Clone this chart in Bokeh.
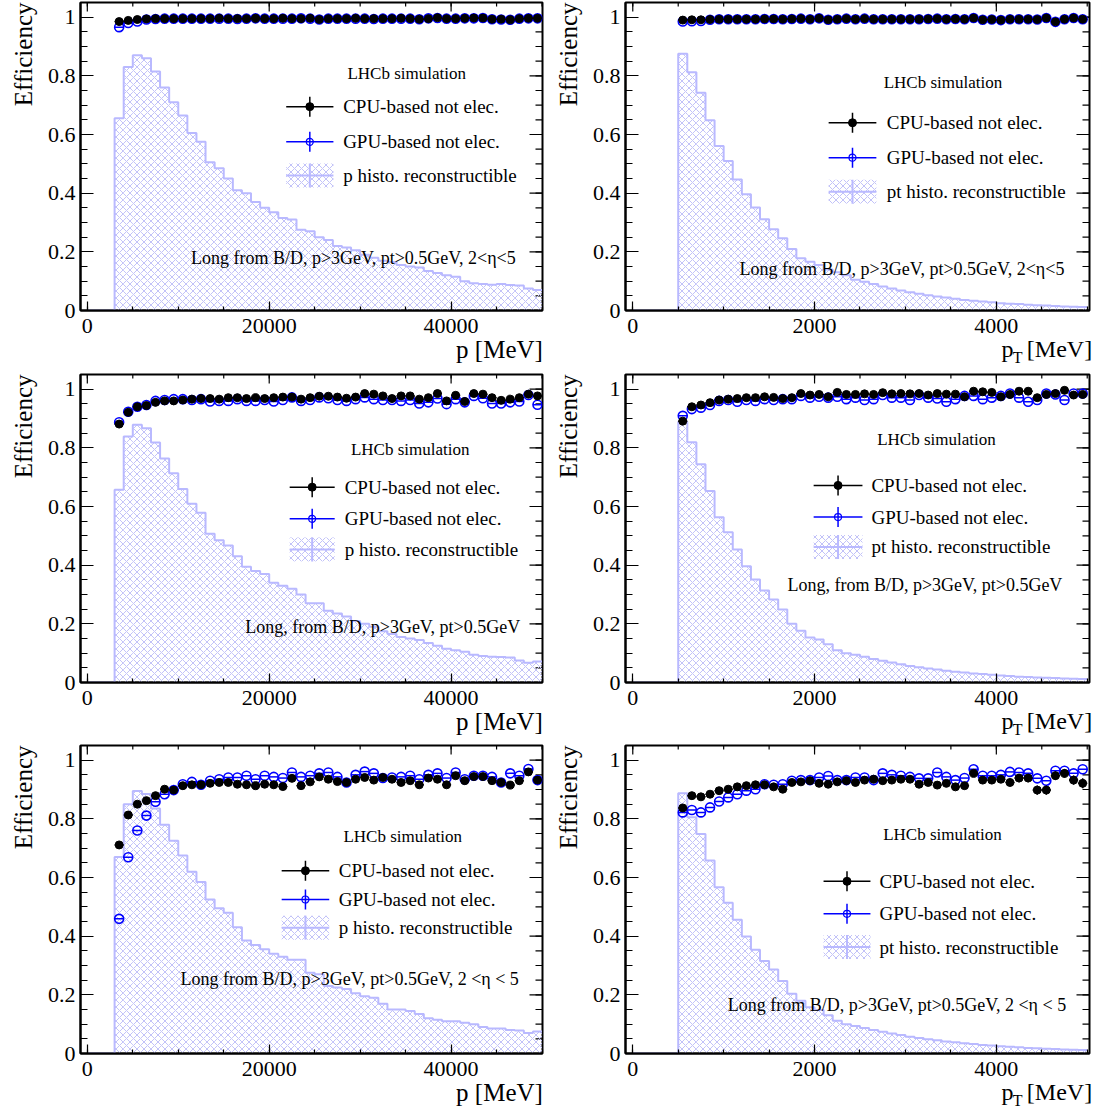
import numpy as np
from bokeh.plotting import figure
from bokeh.models import Range1d, LinearAxis, FixedTicker, CustomJSTickFormatter, Label, Title
from bokeh.layouts import column, row
from bokeh.embed import file_html
from bokeh.resources import INLINE

FONT = "Liberation Serif"
HATCH = "#c2c2f8"
HLINE = "#b9b9ff"
BLUE = "#0000ff"

# ---------------- data ----------------
p_bin_width = 1000      # MeV, p histogram / efficiency bins (0 .. 50000)
pt_bin_width = 100      # MeV, pt histogram / efficiency bins (0 .. 5000)
p_first_center = 3500
pt_first_center = 550

# reconstructible p histograms (normalised), 50 bins of 1000 MeV
p_hist_row1 = [0, 0, 0,
               0.655, 0.83, 0.87, 0.86, 0.815, 0.76, 0.71, 0.665, 0.605, 0.575,
               0.505, 0.485, 0.45, 0.41, 0.40, 0.37, 0.35, 0.335, 0.315, 0.31,
               0.275, 0.27, 0.25, 0.24, 0.22, 0.215, 0.205, 0.19, 0.18, 0.17,
               0.165, 0.155, 0.15, 0.147, 0.135, 0.128, 0.12, 0.115, 0.10, 0.093,
               0.09, 0.088, 0.09, 0.087, 0.085, 0.075, 0.07]
p_hist_row2 = [0, 0, 0,
               0.657, 0.839, 0.879, 0.867, 0.818, 0.764, 0.713, 0.66, 0.609, 0.579,
               0.507, 0.485, 0.467, 0.43, 0.395, 0.38, 0.37, 0.34, 0.33, 0.32,
               0.30, 0.27, 0.27, 0.245, 0.235, 0.225, 0.21, 0.20, 0.19, 0.175,
               0.165, 0.155, 0.15, 0.145, 0.135, 0.125, 0.115, 0.11, 0.105, 0.095,
               0.09, 0.088, 0.087, 0.085, 0.075, 0.067, 0.072]
p_hist_row3 = [0, 0, 0,
               0.67, 0.85, 0.895, 0.885, 0.835, 0.78, 0.725, 0.675, 0.62, 0.585,
               0.525, 0.495, 0.48, 0.43, 0.385, 0.37, 0.355, 0.34, 0.33, 0.32,
               0.32, 0.275, 0.27, 0.23, 0.225, 0.22, 0.205, 0.195, 0.19, 0.17,
               0.15, 0.15, 0.145, 0.135, 0.12, 0.115, 0.11, 0.11, 0.105, 0.1,
               0.09, 0.085, 0.085, 0.08, 0.078, 0.07, 0.075]

# reconstructible pt histograms (normalised), 50 bins of 100 MeV
pt_hist_row1 = [0, 0, 0, 0, 0,
                0.875, 0.812, 0.742, 0.649, 0.561, 0.51, 0.447, 0.396, 0.351, 0.311,
                0.277, 0.246, 0.21, 0.178, 0.166, 0.155, 0.14, 0.13, 0.12, 0.105,
                0.098, 0.09, 0.082, 0.075, 0.068, 0.062, 0.057, 0.052, 0.048, 0.044,
                0.04, 0.036, 0.033, 0.031, 0.028, 0.025, 0.023, 0.022, 0.02, 0.018,
                0.017, 0.015, 0.014, 0.013, 0.012]
pt_hist_row2 = [0, 0, 0, 0, 0,
                0.889, 0.819, 0.744, 0.653, 0.563, 0.512, 0.453, 0.396, 0.351, 0.314,
                0.283, 0.249, 0.2, 0.176, 0.153, 0.147, 0.13, 0.11, 0.1, 0.095,
                0.088, 0.08, 0.074, 0.068, 0.062, 0.056, 0.052, 0.048, 0.044, 0.04,
                0.037, 0.034, 0.031, 0.029, 0.026, 0.024, 0.022, 0.02, 0.019, 0.017,
                0.016, 0.015, 0.014, 0.013, 0.012]
pt_hist_row3 = [0, 0, 0, 0, 0,
                0.887, 0.805, 0.748, 0.658, 0.567, 0.514, 0.456, 0.399, 0.354, 0.315,
                0.286, 0.247, 0.204, 0.18, 0.158, 0.148, 0.13, 0.112, 0.1, 0.094,
                0.087, 0.08, 0.074, 0.068, 0.063, 0.057, 0.053, 0.049, 0.045, 0.041,
                0.038, 0.035, 0.032, 0.029, 0.027, 0.025, 0.023, 0.021, 0.019, 0.018,
                0.016, 0.015, 0.014, 0.013, 0.012]

# efficiencies vs p (bin centres 3500 .. 49500)
cpu_p_row1 = [0.985, 0.989, 0.992, 0.994, 0.995, 0.995, 0.995, 0.995, 0.995, 0.995,
              0.995, 0.996, 0.995, 0.995, 0.995, 0.996, 0.995, 0.995, 0.996, 0.995,
              0.995, 0.996, 0.992, 0.995, 0.995, 0.995, 0.996, 0.995, 0.995, 0.995,
              0.995, 0.996, 0.995, 0.993, 0.995, 0.998, 0.995, 0.995, 0.996, 0.997,
              0.997, 0.993, 0.993, 0.991, 0.995, 0.996, 0.996]
gpu_p_row1 = [0.966, 0.98, 0.985, 0.992, 0.994, 0.995, 0.995, 0.995, 0.995, 0.995,
              0.995, 0.995, 0.995, 0.994, 0.995, 0.996, 0.995, 0.995, 0.995, 0.995,
              0.996, 0.995, 0.992, 0.995, 0.995, 0.995, 0.995, 0.995, 0.994, 0.995,
              0.995, 0.995, 0.995, 0.993, 0.996, 0.997, 0.995, 0.995, 0.996, 0.996,
              0.997, 0.993, 0.992, 0.991, 0.995, 0.996, 0.996]
cpu_p_row2 = [0.881, 0.921, 0.94, 0.944, 0.955, 0.96, 0.96, 0.963, 0.966, 0.968,
              0.968, 0.966, 0.971, 0.971, 0.968, 0.971, 0.968, 0.971, 0.973, 0.973,
              0.966, 0.971, 0.976, 0.976, 0.973, 0.969, 0.973, 0.985, 0.983, 0.977,
              0.968, 0.977, 0.977, 0.966, 0.971, 0.985, 0.96, 0.979, 0.958, 0.985,
              0.983, 0.971, 0.962, 0.966, 0.971, 0.983, 0.977]
gpu_p_row2 = [0.887, 0.923, 0.94, 0.946, 0.96, 0.963, 0.966, 0.966, 0.963, 0.966,
              0.958, 0.96, 0.96, 0.966, 0.96, 0.96, 0.963, 0.958, 0.963, 0.972,
              0.96, 0.963, 0.972, 0.969, 0.963, 0.96, 0.966, 0.972, 0.966, 0.963,
              0.963, 0.96, 0.963, 0.951, 0.955, 0.968, 0.949, 0.966, 0.955, 0.977,
              0.969, 0.951, 0.951, 0.955, 0.958, 0.98, 0.947]
cpu_p_row3 = [0.711, 0.813, 0.85, 0.862, 0.879, 0.901, 0.898, 0.913, 0.916, 0.916,
              0.921, 0.924, 0.924, 0.918, 0.916, 0.913, 0.918, 0.916, 0.91, 0.938,
              0.913, 0.926, 0.943, 0.935, 0.927, 0.924, 0.935, 0.941, 0.932, 0.941,
              0.935, 0.924, 0.93, 0.916, 0.939, 0.935, 0.916, 0.947, 0.93, 0.944,
              0.944, 0.93, 0.924, 0.915, 0.93, 0.96, 0.932]
gpu_p_row3 = [0.459, 0.669, 0.76, 0.811, 0.858, 0.884, 0.898, 0.918, 0.926, 0.916,
              0.93, 0.935, 0.941, 0.941, 0.947, 0.935, 0.947, 0.943, 0.939, 0.958,
              0.943, 0.947, 0.955, 0.958, 0.943, 0.924, 0.95, 0.961, 0.955, 0.939,
              0.941, 0.943, 0.947, 0.935, 0.95, 0.955, 0.939, 0.958, 0.935, 0.947,
              0.947, 0.943, 0.924, 0.955, 0.947, 0.97, 0.932]

# efficiencies vs pt (bin centres 550 .. 4950)
cpu_pt_row1 = [0.990, 0.991, 0.991, 0.992, 0.993, 0.993, 0.993, 0.993, 0.993, 0.994,
               0.994, 0.993, 0.994, 0.995, 0.993, 0.996, 0.991, 0.993, 0.995, 0.993,
               0.995, 0.993, 0.993, 0.993, 0.993, 0.993, 0.993, 0.994, 0.995, 0.993,
               0.994, 0.993, 0.997, 0.991, 0.992, 0.990, 0.993, 0.993, 0.993, 0.992,
               0.997, 0.984, 0.993, 0.997, 0.993]
gpu_pt_row1 = [0.985, 0.986, 0.987, 0.991, 0.993, 0.993, 0.993, 0.993, 0.993, 0.994,
               0.994, 0.993, 0.994, 0.995, 0.993, 0.996, 0.991, 0.993, 0.995, 0.993,
               0.995, 0.993, 0.993, 0.993, 0.993, 0.993, 0.993, 0.994, 0.995, 0.993,
               0.994, 0.993, 0.997, 0.991, 0.992, 0.990, 0.993, 0.993, 0.993, 0.992,
               0.997, 0.984, 0.993, 0.997, 0.993]
cpu_pt_row2 = [0.891, 0.94, 0.946, 0.954, 0.963, 0.966, 0.968, 0.971, 0.971, 0.974,
               0.972, 0.968, 0.971, 0.985, 0.98, 0.982, 0.974, 0.989, 0.982, 0.982,
               0.984, 0.982, 0.988, 0.984, 0.985, 0.984, 0.985, 0.98, 0.985, 0.983,
               0.983, 0.974, 0.993, 0.991, 0.989, 0.974, 0.982, 0.993, 0.993, 0.971,
               0.982, 0.985, 0.996, 0.98, 0.982]
gpu_pt_row2 = [0.909, 0.932, 0.937, 0.946, 0.96, 0.963, 0.957, 0.963, 0.96, 0.966,
               0.963, 0.966, 0.966, 0.977, 0.971, 0.974, 0.971, 0.974, 0.966, 0.971,
               0.963, 0.966, 0.98, 0.971, 0.971, 0.963, 0.98, 0.971, 0.968, 0.957,
               0.966, 0.977, 0.977, 0.966, 0.971, 0.977, 0.985, 0.971, 0.957, 0.963,
               0.985, 0.982, 0.963, 0.985, 0.985]
cpu_pt_row3 = [0.837, 0.879, 0.875, 0.884, 0.896, 0.901, 0.909, 0.913, 0.916, 0.916,
               0.909, 0.901, 0.924, 0.926, 0.93, 0.921, 0.918, 0.926, 0.93, 0.924,
               0.932, 0.935, 0.93, 0.932, 0.935, 0.935, 0.918, 0.924, 0.915, 0.921,
               0.909, 0.913, 0.955, 0.932, 0.932, 0.935, 0.924, 0.939, 0.939, 0.898,
               0.898, 0.947, 0.955, 0.932, 0.921]
gpu_pt_row3 = [0.822, 0.83, 0.822, 0.839, 0.859, 0.873, 0.884, 0.896, 0.901, 0.918,
               0.916, 0.918, 0.93, 0.932, 0.932, 0.941, 0.946, 0.932, 0.932, 0.941,
               0.941, 0.932, 0.955, 0.95, 0.947, 0.943, 0.938, 0.938, 0.958, 0.943,
               0.932, 0.939, 0.969, 0.947, 0.947, 0.95, 0.96, 0.958, 0.955, 0.938,
               0.93, 0.964, 0.964, 0.955, 0.969]
# statistical uncertainties visible in the bottom-right panel (CPU points)
cpu_pt_row3_err = [0.004, 0.004, 0.004, 0.004, 0.004, 0.004, 0.004, 0.004, 0.004, 0.005,
                   0.005, 0.005, 0.005, 0.005, 0.006, 0.006, 0.006, 0.006, 0.007, 0.007,
                   0.007, 0.008, 0.008, 0.008, 0.009, 0.009, 0.009, 0.010, 0.010, 0.011,
                   0.011, 0.012, 0.011, 0.012, 0.012, 0.013, 0.013, 0.014, 0.014, 0.016,
                   0.016, 0.015, 0.015, 0.016, 0.017]

legend_labels = ["CPU-based not elec.", "GPU-based not elec."]
hist_label = {"p": "p histo. reconstructible", "pt": "pt histo. reconstructible"}
info_texts = ["Long from B/D, p>3GeV, pt>0.5GeV, 2<\u03b7<5",
              "Long from B/D, p>3GeV, pt>0.5GeV, 2<\u03b7<5",
              "Long, from B/D, p>3GeV, pt>0.5GeV",
              "Long, from B/D, p>3GeV, pt>0.5GeV",
              "Long from B/D, p>3GeV, pt>0.5GeV, 2 <\u03b7 < 5",
              "Long from B/D, p>3GeV, pt>0.5GeV, 2 <\u03b7 < 5"]

# ---------------- placement of in-frame annotations (data coordinates) ----------------
layouts = [
    dict(lhcb=(35120, 0.807), rows=(0.695, 0.575, 0.46), gx=(21870, 27060), tx=28130, info=(29250, 0.18)),
    dict(lhcb=(3412, 0.776), rows=(0.64, 0.521, 0.405), gx=(2155, 2680), tx=2795, info=(2962, 0.14)),
    dict(lhcb=(35500, 0.793), rows=(0.666, 0.558, 0.453), gx=(22250, 27200), tx=28300, info=(32480, 0.19)),
    dict(lhcb=(3341, 0.83), rows=(0.672, 0.564, 0.462), gx=(1990, 2527), tx=2626, info=(3214, 0.334)),
    dict(lhcb=(34680, 0.74), rows=(0.623, 0.525, 0.429), gx=(21370, 26600), tx=27650, info=(28850, 0.255)),
    dict(lhcb=(3407, 0.746), rows=(0.587, 0.476, 0.363), gx=(2099, 2615), tx=2714, info=(2907, 0.165)),
]

FRAME_H = 308
Y_END = 1.05
FMT = CustomJSTickFormatter(code="return tick.toString();")


def style_axis(ax, major_in, minor_in, standoff):
    ax.major_tick_in = major_in
    ax.major_tick_out = 0
    ax.minor_tick_in = minor_in
    ax.minor_tick_out = 0
    ax.axis_line_color = "black"
    ax.axis_line_width = 2
    ax.major_tick_line_color = "black"
    ax.minor_tick_line_color = "black"
    ax.major_tick_line_width = 1.2
    ax.minor_tick_line_width = 1.2
    ax.formatter = FMT
    ax.major_label_text_font = FONT
    ax.major_label_text_font_size = "22px"
    ax.major_label_text_color = "black"
    ax.major_label_standoff = standoff


def title_axis(fig, positions, labels, size, standoff):
    code = "var l = %s; return l[index];" % repr(labels)
    ax = LinearAxis(ticker=FixedTicker(ticks=positions, minor_ticks=[]),
                    formatter=CustomJSTickFormatter(code=code))
    ax.axis_line_color = None
    ax.major_tick_line_color = None
    ax.minor_tick_line_color = None
    ax.major_tick_out = 0
    ax.major_tick_in = 0
    ax.major_label_text_font = FONT
    ax.major_label_text_font_size = size
    ax.major_label_text_color = "black"
    ax.major_label_standoff = standoff
    fig.add_layout(ax, "below")


def lab(fig, x, y, text, size, align="left"):
    fig.add_layout(Label(x=x, y=y, text=text, text_font=FONT, text_font_size=size,
                         text_color="black", text_align=align, text_baseline="middle"))


def panel(kind, hist, cpu, gpu, lay, info, left_col, top, bottom, cpu_err=None):
    if kind == "p":
        xr = Range1d(-750, 50050)
        bw, c0 = p_bin_width, p_first_center
        x_major = [0, 20000, 40000]
        x_minor = list(range(0, 50001, 5000))
    else:
        xr = Range1d(-80, 5025)
        bw, c0 = pt_bin_width, pt_first_center
        x_major = [0, 2000, 4000]
        x_minor = list(range(0, 5001, 500))
    y_major = [0, 0.2, 0.4, 0.6, 0.8, 1.0]
    y_minor = [round(0.05 * k, 2) for k in range(22)]
    fw = 462 if left_col else 464
    fig = figure(x_range=xr, y_range=Range1d(0, Y_END), frame_width=fw, frame_height=FRAME_H,
                 min_border_left=80, min_border_right=3 if left_col else 6,
                 min_border_top=top, min_border_bottom=bottom,
                 output_backend="svg", toolbar_location=None,
                 background_fill_color="white", border_fill_color="white")
    fig.xgrid.visible = False
    fig.ygrid.visible = False
    fig.outline_line_color = "black"
    fig.outline_line_width = 2

    fig.xaxis.ticker = FixedTicker(ticks=x_major, minor_ticks=x_minor)
    fig.yaxis.ticker = FixedTicker(ticks=y_major, minor_ticks=y_minor)
    style_axis(fig.xaxis[0], 9, 4, 8)
    style_axis(fig.yaxis[0], 13, 7, 5)

    # mirrored ticks on the top and right frame edges
    xpp = (xr.end - xr.start) / fw        # data units per pixel (x)
    ypp = Y_END / FRAME_H                 # data units per pixel (y)
    xm = np.array(x_major, dtype=float)
    xn = np.array(x_minor, dtype=float)
    fig.segment(xm, Y_END, xm, Y_END - 9 * ypp, line_color="black", line_width=1.2)
    fig.segment(xn, Y_END, xn, Y_END - 4 * ypp, line_color="black", line_width=1.2)
    ym = np.array(y_major)
    yn = np.array(y_minor)
    fig.segment(xr.end, ym, xr.end - 13 * xpp, ym, line_color="black", line_width=1.2)
    fig.segment(xr.end, yn, xr.end - 7 * xpp, yn, line_color="black", line_width=1.2)

    # histogram
    n = len(hist)
    lo = np.arange(n) * bw
    fig.quad(left=lo, right=lo + bw, bottom=np.zeros(n), top=hist,
             fill_color=None, line_color=None, hatch_pattern="x",
             hatch_color=HATCH, hatch_scale=7, hatch_weight=1)
    edges = np.arange(n + 1) * bw
    fig.line(np.repeat(edges, 2)[1:-1], np.repeat(hist, 2), line_color=HLINE, line_width=2)

    # efficiencies
    cx = c0 + np.arange(len(cpu)) * bw
    g = np.array(gpu)
    c = np.array(cpu)
    fig.segment(cx - bw / 2, g, cx + bw / 2, g, line_color=BLUE, line_width=1.5)
    fig.scatter(cx, g, marker="circle", size=9, fill_color=None, line_color=BLUE, line_width=1.6)
    fig.segment(cx - bw / 2, c, cx + bw / 2, c, line_color="black", line_width=1.5)
    if cpu_err is not None:
        e = np.array(cpu_err)
        fig.segment(cx, c - e, cx, c + e, line_color="black", line_width=1.5)
    fig.scatter(cx, c, marker="circle", size=8, fill_color="black", line_color="black")

    # legend (ROOT style, drawn by hand)
    gx0, gx1 = lay["gx"]
    gm = 0.5 * (gx0 + gx1)
    r_cpu, r_gpu, r_h = lay["rows"]
    vb = 10 * ypp
    hb = 12 * ypp
    fig.segment([gx0], [r_cpu], [gx1], [r_cpu], line_color="black", line_width=1.5)
    fig.segment([gm], [r_cpu - vb], [gm], [r_cpu + vb], line_color="black", line_width=1.5)
    fig.scatter([gm], [r_cpu], marker="circle", size=8, fill_color="black", line_color="black")
    fig.segment([gx0], [r_gpu], [gx1], [r_gpu], line_color=BLUE, line_width=1.5)
    fig.segment([gm], [r_gpu - vb], [gm], [r_gpu + vb], line_color=BLUE, line_width=1.5)
    fig.scatter([gm], [r_gpu], marker="circle", size=7, fill_color=None, line_color=BLUE, line_width=1.2)
    fig.quad(left=[gx0], right=[gx1], bottom=[r_h - hb], top=[r_h + hb],
             fill_color=None, line_color=None, hatch_pattern="x",
             hatch_color=HATCH, hatch_scale=7, hatch_weight=1)
    fig.segment([gx0], [r_h], [gx1], [r_h], line_color=HLINE, line_width=2)
    fig.segment([gm], [r_h - hb], [gm], [r_h + hb], line_color=HLINE, line_width=2)

    lab(fig, lay["tx"], r_cpu, legend_labels[0], "19px")
    lab(fig, lay["tx"], r_gpu, legend_labels[1], "19px")
    lab(fig, lay["tx"], r_h, hist_label[kind], "19px")
    lab(fig, lay["lhcb"][0], lay["lhcb"][1], "LHCb simulation", "17px", align="center")
    lab(fig, lay["info"][0], lay["info"][1], info, "18px", align="center")

    # axis titles
    yt = Title(text="Efficiency", align="right", text_font=FONT, text_font_size="25px",
               text_font_style="normal", text_color="black", standoff=15)
    fig.add_layout(yt, "left")
    if kind == "p":
        title_axis(fig, [round(xr.end - 43 * xpp)], ["p [MeV]"], "25px", 0)
    else:
        title_axis(fig, [round(xr.end - 82 * xpp), round(xr.end - 30 * xpp)],
                   ["p", "[MeV]"], "24px", 0)
        title_axis(fig, [round(xr.end - 72 * xpp)], ["T"], "16px", -16)
    return fig


p1 = panel("p", p_hist_row1, cpu_p_row1, gpu_p_row1, layouts[0], info_texts[0], True, 2, 62)
p2 = panel("pt", pt_hist_row1, cpu_pt_row1, gpu_pt_row1, layouts[1], info_texts[1], False, 2, 62)
p3 = panel("p", p_hist_row2, cpu_p_row2, gpu_p_row2, layouts[2], info_texts[2], True, 2, 62)
p4 = panel("pt", pt_hist_row2, cpu_pt_row2, gpu_pt_row2, layouts[3], info_texts[3], False, 2, 62)
p5 = panel("p", p_hist_row3, cpu_p_row3, gpu_p_row3, layouts[4], info_texts[4], True, 1, 62)
p6 = panel("pt", pt_hist_row3, cpu_pt_row3, gpu_pt_row3, layouts[5], info_texts[5], False, 1, 62,
           cpu_err=cpu_pt_row3_err)

layout = column(row(p1, p2), row(p3, p4), row(p5, p6))
open("out.html", "w").write(file_html(layout, INLINE))
